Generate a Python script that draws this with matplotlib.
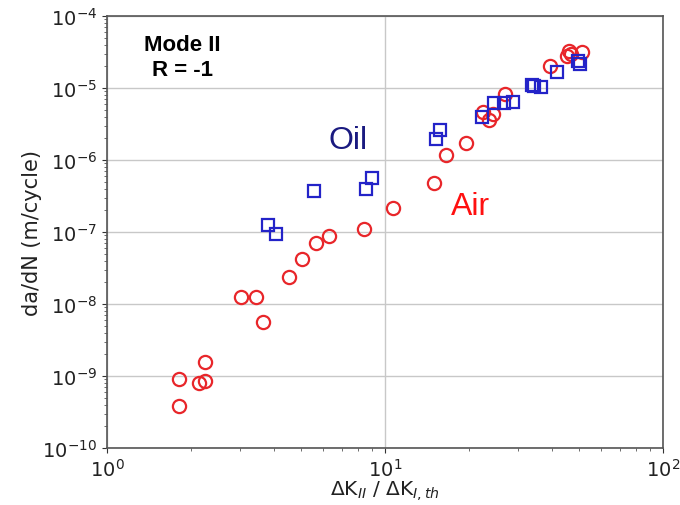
import matplotlib
matplotlib.use("Agg")
import matplotlib.pyplot as plt

# Air (red circles)
air_dk = [1.81, 1.81, 2.14, 2.26, 2.25, 3.04, 3.43, 3.65, 4.53, 5.03, 5.65, 6.27, 8.43,
          10.7, 15.0, 16.6, 19.5, 22.6, 23.7, 24.5, 27.1, 39.1, 45.0, 45.8, 46.5, 51.0]
air_dadn = [9.1e-10, 3.8e-10, 7.9e-10, 8.5e-10, 1.55e-9, 1.24e-8, 1.24e-8, 5.7e-9, 2.4e-8,
            4.2e-8, 7.0e-8, 8.9e-8, 1.1e-7, 2.15e-7, 4.8e-7, 1.17e-6, 1.7e-6, 4.6e-6,
            3.6e-6, 4.35e-6, 8.3e-6, 2.04e-5, 2.8e-5, 3.3e-5, 3.0e-5, 3.2e-5]

# Oil (blue squares)
oil_dk = [3.78, 4.04, 5.55, 8.52, 8.96, 15.3, 15.8, 22.4, 24.7, 26.8, 28.9, 33.7, 34.3,
          36.4, 41.6, 49.3, 50.3]
oil_dadn = [1.25e-7, 9.3e-8, 3.7e-7, 4.0e-7, 5.6e-7, 1.96e-6, 2.6e-6, 4.0e-6, 6.2e-6,
            6.2e-6, 6.45e-6, 1.1e-5, 1.08e-5, 1.02e-5, 1.65e-5, 2.35e-5, 2.13e-5]

fig = plt.figure(figsize=(6.8, 5.06), dpi=100)
ax = fig.add_axes([107/680, 57/506, 556/680, 432/506])

ax.set_xscale("log")
ax.set_yscale("log")
ax.set_xlim(1, 100)
ax.set_ylim(1e-10, 1e-4)

ax.grid(True, which="major", color="#c8c8c8", linewidth=1.0)
ax.set_axisbelow(True)

ax.plot(air_dk, air_dadn, linestyle="none", marker="o", markersize=9.5,
        markerfacecolor="none", markeredgecolor="#e8262a", markeredgewidth=1.6)
ax.plot(oil_dk, oil_dadn, linestyle="none", marker="s", markersize=9,
        markerfacecolor="none", markeredgecolor="#2323c8", markeredgewidth=1.6)

ax.text(0.135, 0.905, "Mode II\nR = -1", transform=ax.transAxes, ha="center", va="center",
        fontsize=16, fontweight="bold", family="Liberation Sans", linespacing=1.25)
ax.text(10**0.867, 10**-5.72, "Oil", ha="center", va="center", fontsize=23,
        color="#1a1a80", family="Liberation Sans")
ax.text(10**1.309, 10**-6.64, "Air", ha="center", va="center", fontsize=23,
        color="#ff1010", family="Liberation Sans")

ax.tick_params(axis="both", which="major", labelsize=14, colors="#333333",
               labelcolor="#222222")
ax.tick_params(axis="both", which="minor", colors="#555555")
for s in ax.spines.values():
    s.set_color("#555555")
    s.set_linewidth(1.2)

ax.set_xlabel(r"$\Delta$K$_{II}$ / $\Delta$K$_{I,th}$", fontsize=14.5, color="#222222",
              labelpad=-1)
ax.set_ylabel("da/dN (m/cycle)", fontsize=15, color="#222222", labelpad=0)

fig.savefig("out.png", dpi=100)
